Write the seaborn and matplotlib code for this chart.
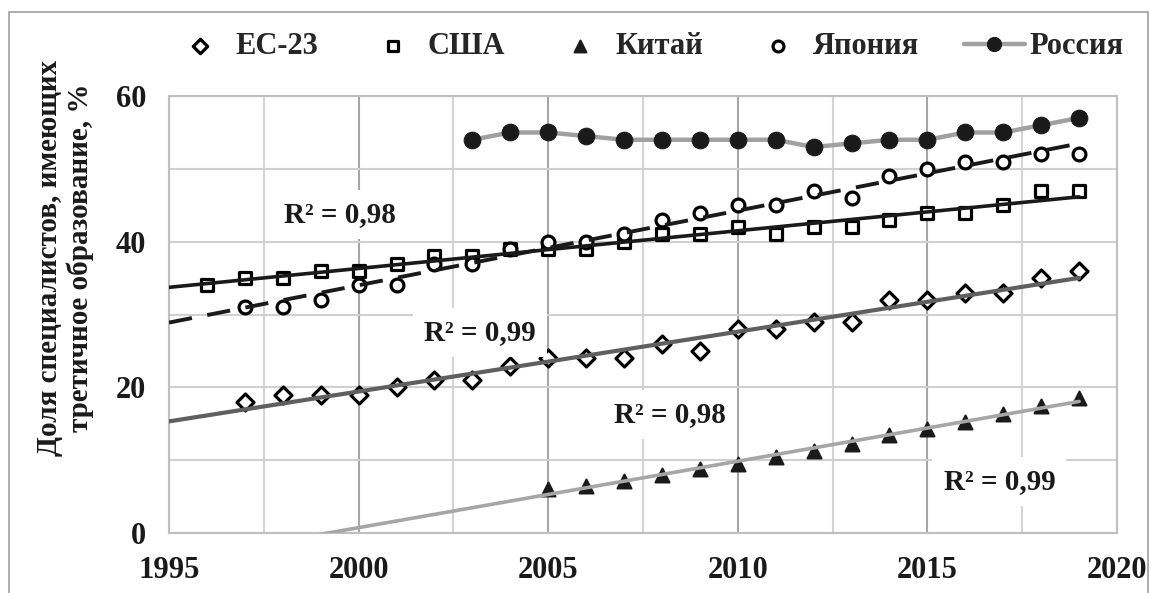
import matplotlib.pyplot as plt
import matplotlib.ticker as mticker
from matplotlib.patches import Rectangle
import numpy as np
import seaborn as sns

# Data
years_eu = list(range(1997, 2020))
eu23 = [18, 19, 19, 19, 20, 21, 21, 23, 24, 24, 24, 26, 25, 28, 28, 29, 29, 32, 32, 33, 33, 35, 36]

years_usa = list(range(1996, 2020))
usa = [34, 35, 35, 36, 36, 37, 38, 38, 39, 39, 39, 40, 41, 41, 42, 41, 42, 42, 43, 44, 44, 45, 47, 47]

years_china = list(range(2005, 2020))
china = [6, 6.5, 7.2, 7.9, 8.8, 9.5, 10.4, 11.3, 12.2, 13.4, 14.3, 15.3, 16.3, 17.5, 18.6]

years_japan = list(range(1997, 2020))
japan = [31, 31, 32, 34, 34, 37, 37, 39, 40, 40, 41, 43, 44, 45, 45, 47, 46, 49, 50, 51, 51, 52, 52]

years_russia = list(range(2003, 2020))
russia = [54, 55, 55, 54.5, 54, 54, 54, 54, 54, 53, 53.5, 54, 54, 55, 55, 56, 57]

r2_labels = ['R² = 0,98', 'R² = 0,99', 'R² = 0,98', 'R² = 0,99']
r2_pos = [(1999.5, 43.7), (2003.2, 27.5), (2008.2, 16.3), (2016.9, 7.1)]

sns.set_theme(style='white')
plt.rcParams['font.family'] = ['Liberation Serif', 'DejaVu Serif']
plt.rcParams['font.weight'] = 'bold'

fig = plt.figure(figsize=(11.5, 5.93), dpi=100)
ax = fig.add_axes([0.147, 0.1012, 0.8243, 0.7368])

# outer frame of the chart
fig.patches.append(Rectangle((9 / 1150, -0.05), 1139 / 1150, 1 - 12 / 593 + 0.05,
                             transform=fig.transFigure, fill=False,
                             edgecolor='#a0a0a0', linewidth=1.2))

# markers
sns.scatterplot(x=years_eu, y=eu23, marker='D', s=75, facecolor='white',
                edgecolor='black', linewidth=2.3, label='ЕС-23', ax=ax, zorder=3)
sns.scatterplot(x=years_usa, y=usa, marker='s', s=85, facecolor='white',
                edgecolor='black', linewidth=2.3, label='США', ax=ax, zorder=3)
sns.scatterplot(x=years_china, y=china, marker='^', s=100, color='#1a1a1a',
                edgecolor='#1a1a1a', linewidth=1.5, label='Китай', ax=ax, zorder=3)
sns.scatterplot(x=years_japan, y=japan, marker='o', s=85, facecolor='white',
                edgecolor='black', linewidth=2.3, label='Япония', ax=ax, zorder=3)
sns.lineplot(x=years_russia, y=russia, color='#a0a0a0', linewidth=3.2,
             marker='o', markersize=12, markerfacecolor='#1a1a1a',
             markeredgecolor='#1a1a1a', label='Россия', ax=ax, zorder=4)

# linear trend lines
xt = np.linspace(1995, 2019, 50)
for xs, ys, col, ls, lw in [(years_eu, eu23, '#5f5f5f', '-', 3),
                            (years_usa, usa, '#1a1a1a', '-', 2.6),
                            (years_china, china, '#a6a6a6', '-', 2.6),
                            (years_japan, japan, '#1a1a1a', (0, (6, 4)), 2.8)]:
    k, b = np.polyfit(xs, ys, 1)
    ax.plot(xt, k * xt + b, color=col, linestyle=ls, linewidth=lw, zorder=5)

for txt, (px, py) in zip(r2_labels, r2_pos):
    ax.text(px, py, txt, ha='center', va='center', fontsize=21, fontweight='bold',
            color='#1a1a1a', zorder=6,
            bbox=dict(facecolor='white', edgecolor='none', pad=8))

ax.set_xlim(1995, 2020)
ax.set_ylim(0, 60)
ax.xaxis.set_major_locator(mticker.MultipleLocator(5))
ax.xaxis.set_minor_locator(mticker.MultipleLocator(2.5))
ax.yaxis.set_major_locator(mticker.MultipleLocator(20))
ax.yaxis.set_minor_locator(mticker.MultipleLocator(10))
ax.grid(True, which='major', axis='x', color='#a6a6a6', linewidth=1.5)
ax.grid(True, which='minor', axis='x', color='#d4d4d4', linewidth=1.5)
ax.grid(True, which='both', axis='y', color='#d0d0d0', linewidth=1.5)
ax.set_axisbelow(True)
for sp in ax.spines.values():
    sp.set_color('#bfbfbf')
    sp.set_linewidth(1.5)
ax.tick_params(which='major', length=6.5, width=1.5, color='#bfbfbf', pad=10,
               labelsize=22, labelcolor='#1a1a1a')
ax.tick_params(which='minor', length=0)
for lab in ax.get_xticklabels() + ax.get_yticklabels():
    lab.set_fontweight('bold')
ax.set_xlabel('')
ax.set_ylabel('')

fig.text(65 / 1150, (593 - 258) / 593,
         'Доля специалистов, имеющих\nтретичное образование, %',
         rotation=90, ha='center', va='center', fontsize=21, fontweight='bold',
         color='#1a1a1a', linespacing=1.15)

leg = ax.legend(ncol=5, loc='center', bbox_to_anchor=(0.562, 0.921),
                bbox_transform=fig.transFigure, frameon=False,
                handlelength=2.0, columnspacing=1.45, handletextpad=0.15,
                markerscale=0.85, prop={'weight': 'bold', 'size': 22})

fig.savefig('out.png', dpi=100)
